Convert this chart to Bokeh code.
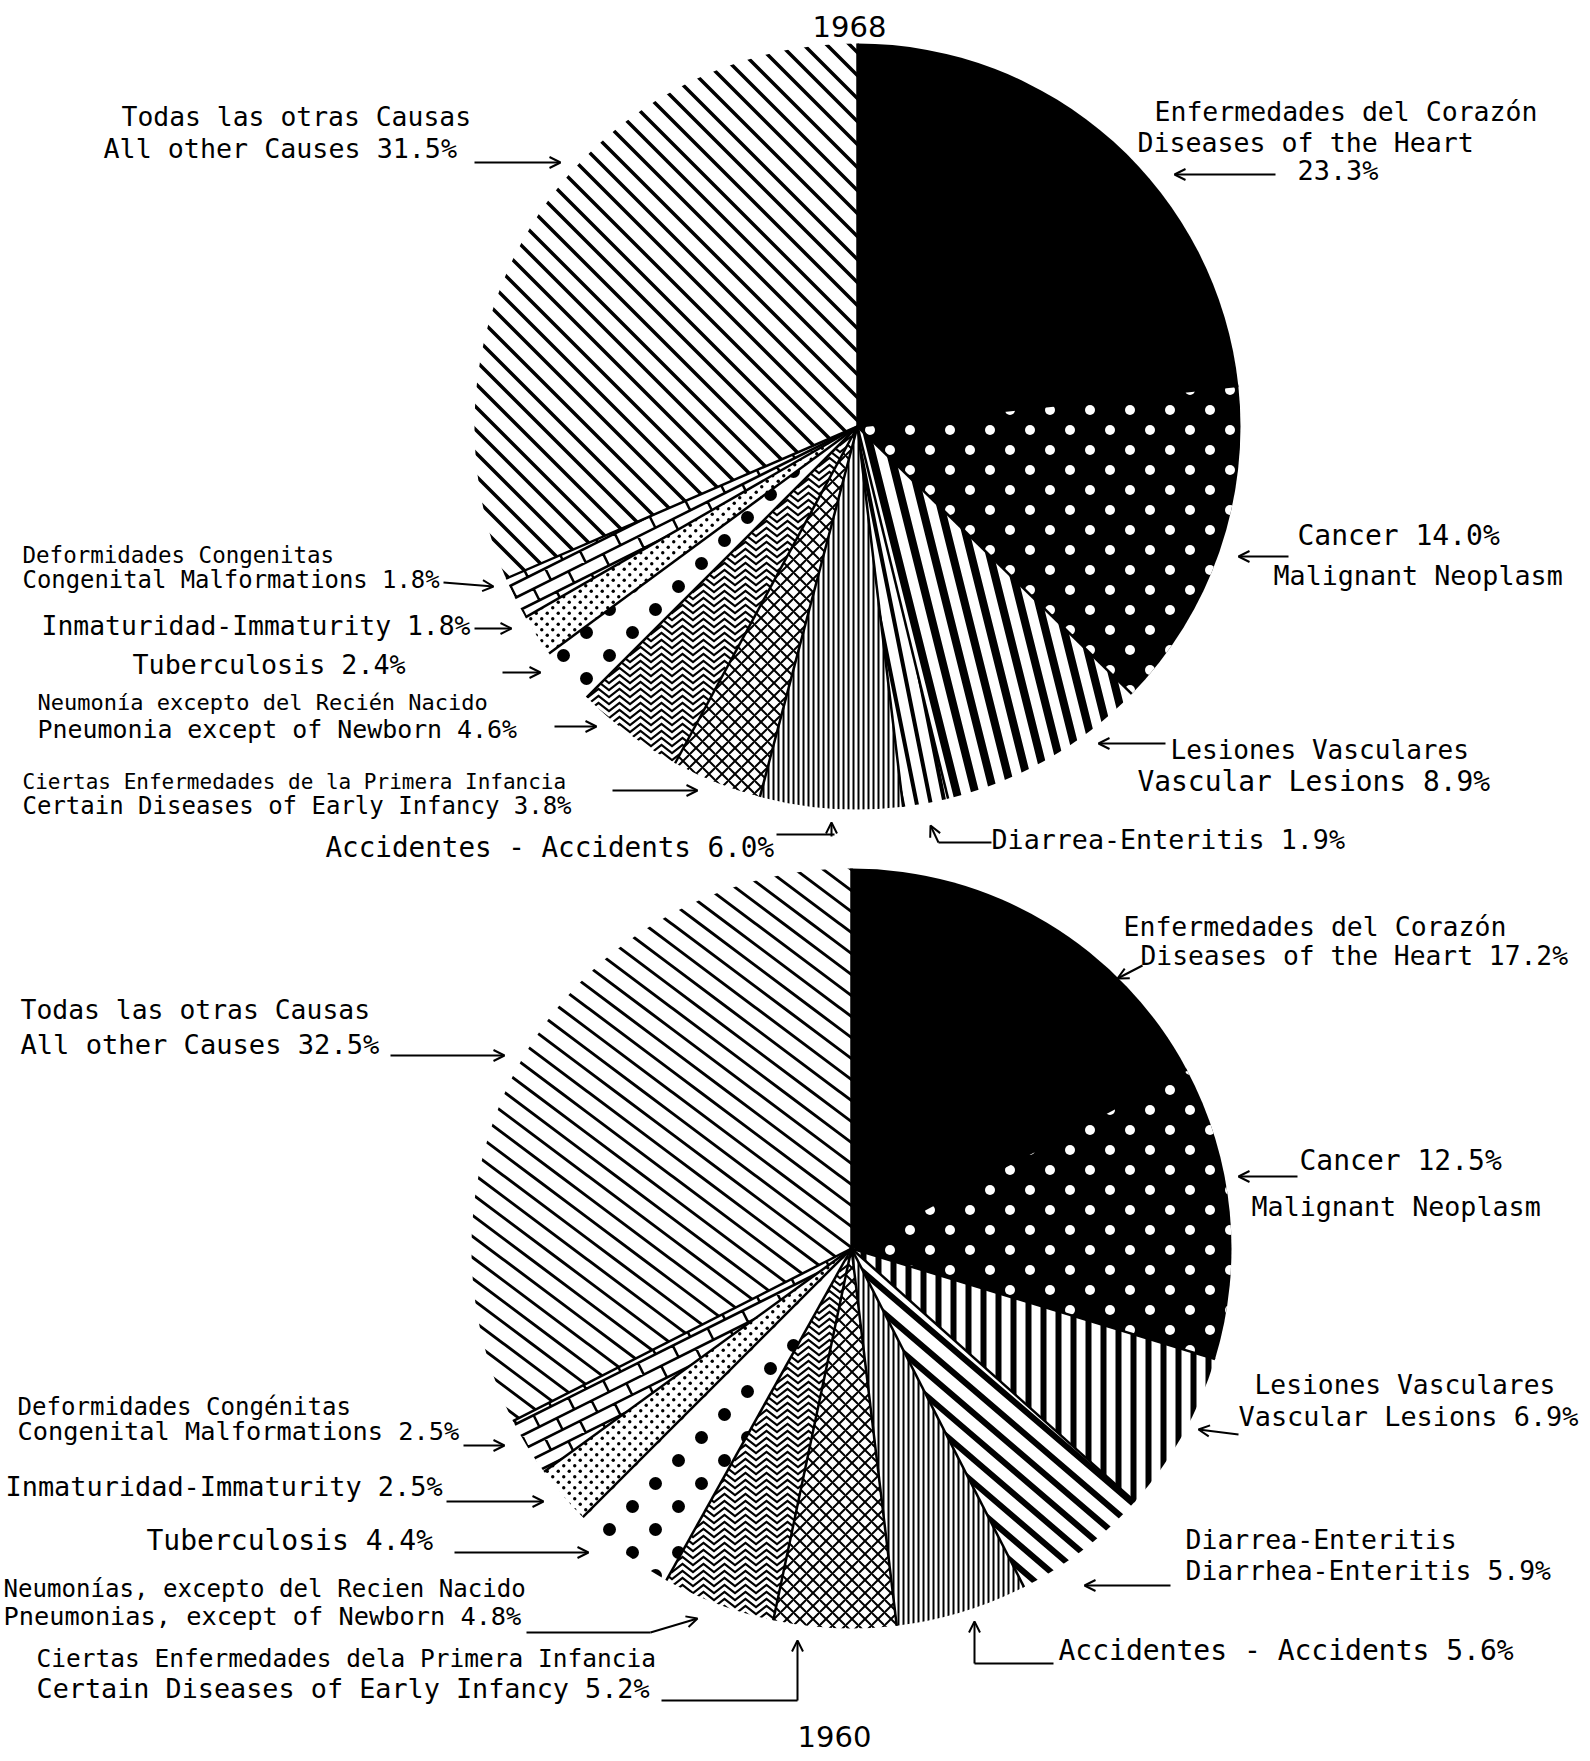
import math
from bokeh.plotting import figure
from bokeh.models import Range1d, Arrow, OpenHead, CanvasTexture, ColumnDataSource
from bokeh.core.properties import value
from bokeh.embed import file_html
from bokeh.resources import INLINE

# ---------------- data ----------------
causes = ["Heart", "Cancer", "Vascular", "Diarrhea", "Accidents", "EarlyInfancy",
          "Pneumonia", "Tuberculosis", "Immaturity", "Congenital", "Other"]
pct_1968 = [23.3, 14.0, 8.9, 1.9, 6.0, 3.8, 4.6, 2.4, 1.8, 1.8, 31.5]
pct_1960 = [17.2, 12.5, 6.9, 5.9, 5.6, 5.2, 4.8, 4.4, 2.5, 2.5, 32.5]

labels_1968 = [
    ["Enfermedades del Corazón", "Diseases of the Heart", "{p}"],
    ["Cancer {p}", "Malignant Neoplasm"],
    ["Lesiones Vasculares", "Vascular Lesions {p}"],
    ["Diarrea-Enteritis {p}"],
    ["Accidentes - Accidents {p}"],
    ["Ciertas Enfermedades de la Primera Infancia", "Certain Diseases of Early Infancy {p}"],
    ["Neumonía excepto del Recién Nacido", "Pneumonia except of Newborn {p}"],
    ["Tuberculosis {p}"],
    ["Inmaturidad-Immaturity {p}"],
    ["Deformidades Congenitas", "Congenital Malformations {p}"],
    ["Todas las otras Causas", "All other Causes {p}"],
]
labels_1960 = [
    ["Enfermedades del Corazón", "Diseases of the Heart {p}"],
    ["Cancer {p}", "Malignant Neoplasm"],
    ["Lesiones Vasculares", "Vascular Lesions {p}"],
    ["Diarrea-Enteritis", "Diarrhea-Enteritis {p}"],
    ["Accidentes - Accidents {p}"],
    ["Ciertas Enfermedades dela Primera Infancia", "Certain Diseases of Early Infancy {p}"],
    ["Neumonías, excepto del Recien Nacido", "Pneumonias, except of Newborn {p}"],
    ["Tuberculosis {p}"],
    ["Inmaturidad-Immaturity {p}"],
    ["Deformidades Congénitas", "Congenital Malformations {p}"],
    ["Todas las otras Causas", "All other Causes {p}"],
]
years = ["1968", "1960"]

# ---------------- layout (reference pixel coords, y down) ----------------
H = 1761
def Y(y):
    return H - y

# (x_left, x_right, y_center) per label line
pos_1968 = [
    [(1154, 1537, 111), (1137, 1473, 142), (1297, 1378, 170)],
    [(1297, 1506, 535), (1273, 1562, 575)],
    [(1170, 1469, 749), (1137, 1490, 781)],
    [(991, 1344, 839)],
    [(325, 773, 847)],
    [(22, 566, 781), (22, 571, 805)],
    [(37, 487, 702), (37, 517, 729)],
    [(132, 405, 664)],
    [(41, 470, 625)],
    [(22, 334, 554), (22, 439, 579)],
    [(121, 470, 116), (103, 457, 148)],
]
pos_1960 = [
    [(1123, 1506, 926), (1140, 1568, 955)],
    [(1299, 1520, 1160), (1251, 1540, 1206)],
    [(1254, 1555, 1384), (1238, 1578, 1416)],
    [(1185, 1456, 1539), (1185, 1551, 1570)],
    [(1058, 1518, 1650)],
    [(36, 655, 1658), (36, 650, 1688)],
    [(3, 526, 1588), (3, 521, 1616)],
    [(146, 442, 1540)],
    [(5, 442, 1486)],
    [(17, 351, 1406), (17, 459, 1431)],
    [(20, 370, 1009), (20, 379, 1044)],
]
arrows = [
    (1275, 174, 1174, 174), (1288, 556, 1238, 556), (1165, 743, 1098, 743),
    (938, 842, 930, 825), (831, 836, 831, 822), (612, 790, 697, 790),
    (554, 726, 596, 726), (502, 672, 540, 672), (474, 628, 511, 628),
    (443, 582, 493, 586), (474, 162, 560, 162),
    (1142, 965, 1117, 978), (1297, 1176, 1238, 1176), (1238, 1434, 1198, 1429),
    (1170, 1585, 1084, 1585), (974, 1663, 974, 1621), (797, 1700, 797, 1640),
    (650, 1632, 697, 1618), (454, 1552, 588, 1552), (446, 1501, 543, 1501),
    (463, 1445, 504, 1445), (390, 1055, 504, 1055),
]
leaders = [
    (991, 842, 938, 842), (776, 834, 834, 834),
    (1053, 1663, 974, 1663), (661, 1700, 797, 1700), (526, 1632, 650, 1632),
]
pies = [(857, 426, 383), (851, 1248, 380)]
year_pos = [(849, 26), (834, 1736)]

# ---------------- textures ----------------
def prelude(h):
    return f"""
const h = {h};
const cv = ctx.canvas; cv.width = h; cv.height = h;
ctx.setTransform(1, 0, 0, 1, 0, 0); ctx.clearRect(0, 0, h, h);
"""

def lines_code(h, n, m, lw):
    return prelude(h) + f"""
const d = h/{n}; const m = {m};
ctx.strokeStyle = 'black'; ctx.lineWidth = {lw};
ctx.beginPath();
for (let k = -m-3; k <= {n}+3; k++) {{
  const x0 = k*d;
  ctx.moveTo(x0 - m*d, -h); ctx.lineTo(x0 + 2*m*d, 2*h);
}}
ctx.stroke();
"""

def dots_code(h, r, color):
    return prelude(h) + f"""
ctx.fillStyle = '{color}';
const pts = [[h/4, h/4], [3*h/4, 3*h/4]];
for (let i = 0; i < pts.length; i++) {{
  ctx.beginPath(); ctx.arc(pts[i][0], pts[i][1], {r}, 0, 2*Math.PI); ctx.fill();
}}
"""

def zig_code(h, lw):
    return prelude(h) + f"""
const n = 3; const a = h*0.4;
ctx.strokeStyle = 'black'; ctx.lineWidth = {lw}; ctx.lineJoin = 'miter';
ctx.beginPath();
for (let k = -1; k <= n+1; k++) {{
  const y0 = k*h/n;
  ctx.moveTo(-h/2, y0 - a/2);
  ctx.lineTo(0, y0 + a/2); ctx.lineTo(h/2, y0 - a/2);
  ctx.lineTo(h, y0 + a/2); ctx.lineTo(3*h/2, y0 - a/2);
}}
ctx.stroke();
"""

def brick_code(h):
    return prelude(h) + """
const r5 = Math.sqrt(5); const s = h/(6*r5); const L = 3*s;
const ux = 2/r5, uy = -1/r5, vx = 1/r5, vy = 2/r5;
ctx.strokeStyle = 'black'; ctx.lineWidth = 2.5;
ctx.beginPath();
for (let j = -4; j <= 24; j++) {
  const w = j*s;
  ctx.moveTo(-600*ux + w*vx, -600*uy + w*vy); ctx.lineTo(600*ux + w*vx, 600*uy + w*vy);
  const off = (((j % 2) + 2) % 2) * L/2;
  for (let i = -8; i <= 8; i++) {
    const t = i*L + off;
    ctx.moveTo(t*ux + w*vx, t*uy + w*vy); ctx.lineTo(t*ux + (w+s)*vx, t*uy + (w+s)*vy);
  }
}
ctx.stroke();
"""

def custom(code, scale, fill="white"):
    return dict(fill_color=fill, hatch_pattern=value("custom"), hatch_scale=scale,
                hatch_extra={"custom": CanvasTexture(code=code)})

def builtin(pat, scale, weight, fill="white"):
    return dict(fill_color=fill, hatch_pattern=pat, hatch_scale=scale,
                hatch_weight=weight, hatch_color="black")

common = {
    "Heart": dict(fill_color="black"),
    "Cancer": custom(dots_code(40, 5, "white"), 40, fill="black"),
    "Accidents": builtin("vertical_line", 5, 2),
    "EarlyInfancy": builtin("diagonal_cross", 13, 2),
    "Pneumonia": custom(zig_code(21, 2.2), 21),
    "Tuberculosis": custom(dots_code(46, 6.5, "black"), 46),
    "Immaturity": custom(dots_code(11, 1.7, "black"), 11),
    "Congenital": custom(brick_code(174), 174),
}
styles_1968 = dict(common)
styles_1968.update({
    "Vascular": custom(lines_code(74, 4, 1, 8), 74),
    "Diarrhea": custom(lines_code(70, 5, 1, 4), 70),
    "Other": custom(lines_code(23, 1, 1, 3.5), 23),
})
styles_1960 = dict(common)
styles_1960.update({
    "Vascular": builtin("vertical_line", 15, 6),
    "Diarrhea": custom(lines_code(162, 6, 7, 6), 162),
    "Other": custom(lines_code(84, 3, 4, 3), 84),
})

# ---------------- figure ----------------
W, HH = 1582, 1753
p = figure(width=W, height=HH, x_range=Range1d(0, W), y_range=Range1d(H - HH, H),
           x_axis_type=None, y_axis_type=None, toolbar_location=None,
           output_backend="svg", min_border=0, outline_line_color=None,
           background_fill_color="white", border_fill_color="white")

def draw_pie(center, pcts, styles):
    cx, cy, r = center
    total = sum(pcts)
    cum = 0.0
    bounds = []
    for name, v in zip(causes, pcts):
        a0 = math.pi / 2 - 2 * math.pi * cum / total
        cum += v
        a1 = math.pi / 2 - 2 * math.pi * cum / total
        bounds.append(a0)
        p.wedge(x=cx, y=Y(cy), radius=r, start_angle=a0, end_angle=a1,
                direction="clock", line_color=None, **styles[name])
    p.ray(x=[cx] * len(bounds), y=[Y(cy)] * len(bounds), length=r, angle=bounds,
          line_color="black", line_width=2.5)

draw_pie(pies[0], pct_1968, styles_1968)
draw_pie(pies[1], pct_1960, styles_1960)

MONO = 0.602
tx, ty, tt, fs = [], [], [], []
for labels, pcts, poss in ((labels_1968, pct_1968, pos_1968), (labels_1960, pct_1960, pos_1960)):
    for lines, v, pl in zip(labels, pcts, poss):
        for line, (xl, xr, y) in zip(lines, pl):
            s = line.replace("{p}", f"{v:.1f}%")
            size = (xr - xl) / (len(s) * MONO)
            size = max(21.0, min(28.0, size))
            tx.append(xl)
            ty.append(Y(y))
            tt.append(s)
            fs.append(f"{size:.1f}px")
src = ColumnDataSource(dict(x=tx, y=ty, text=tt, fs=fs))
p.text(x="x", y="y", text="text", source=src, text_font=value("DejaVu Sans Mono"),
       text_font_size="fs", text_baseline="middle", text_align="left", text_color="black")

p.text(x=[q[0] for q in year_pos], y=[Y(q[1]) for q in year_pos], text=years,
       text_font=value("DejaVu Sans"), text_font_size="29px", text_baseline="middle",
       text_align="center", text_color="black")

p.segment(x0=[l[0] for l in leaders], y0=[Y(l[1]) for l in leaders],
          x1=[l[2] for l in leaders], y1=[Y(l[3]) for l in leaders],
          line_color="black", line_width=2)
for (x0, y0, x1, y1) in arrows:
    p.add_layout(Arrow(end=OpenHead(size=11, line_width=2, line_color="black"),
                       x_start=x0, y_start=Y(y0), x_end=x1, y_end=Y(y1),
                       line_width=2, line_color="black"))

open("out.html", "w").write(file_html(p, INLINE))
